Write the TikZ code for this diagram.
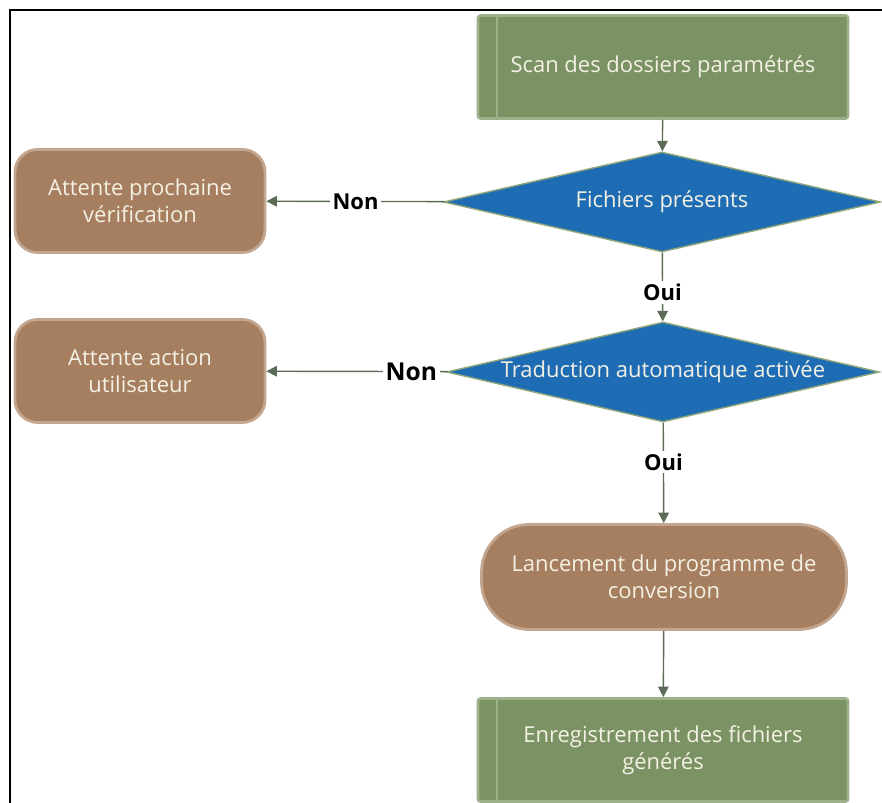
\documentclass[tikz,border=0pt]{standalone}
\usepackage{fontspec}
\setmainfont{Open Sans}
\usetikzlibrary{shapes.geometric,arrows.meta}
\definecolor{boxgreen}{HTML}{7B9364}
\definecolor{edgegreen}{HTML}{9DB08A}
\definecolor{boxbrown}{HTML}{A57F5F}
\definecolor{edgebrown}{HTML}{C2A690}
\definecolor{boxblue}{HTML}{1E6CB4}
\definecolor{edgeblue}{HTML}{8FA67A}
\definecolor{linecol}{HTML}{5B6B55}
\definecolor{boxtext}{HTML}{F4F1E4}
\begin{document}
\begin{tikzpicture}[x=0.02cm, y=-0.02cm,
    every node/.style={font=\fontsize{12.5}{15.3}\selectfont},
    procbox/.style={draw=edgegreen, line width=1.6pt, fill=boxgreen, text=boxtext, align=center,
        minimum width=7.4cm, minimum height=2.06cm, rounded corners=1.5pt,
        path picture={\draw[edgegreen, line width=1.6pt]
            ([xshift=0.38cm]path picture bounding box.north west) -- ([xshift=0.38cm]path picture bounding box.south west);}},
    waitbox/.style={draw=edgebrown, line width=1.6pt, fill=boxbrown, text=boxtext, align=center,
        minimum height=2.06cm, rounded corners=0.45cm},
    decision/.style={diamond, aspect=4.35, draw=edgeblue, line width=0.8pt, fill=boxblue, text=boxtext,
        inner sep=0pt, minimum height=2cm},
    flow/.style={draw=linecol, line width=0.8pt, -{Triangle[width=6pt,length=6pt]}},
    answer/.style={font=\bfseries\fontsize{12.5}{14}\selectfont, fill=white, inner sep=1.5pt}]
    \useasboundingbox (0,0) rectangle (882,803);
    \draw[line width=1.2pt] (10,803) -- (10,10) -- (882,10);

    \node[procbox] (scan) at (663,67) {Scan des dossiers paramétrés};
    \node[decision, minimum width=8.74cm] (files) at (662,202) {Fichiers présents};
    \node[waitbox, minimum width=5cm] (next) at (140,201) {Attente prochaine\\vérification};
    \node[decision, minimum width=8.66cm] (auto) at (663,372) {Traduction automatique activée};
    \node[waitbox, minimum width=5cm] (user) at (140,371) {Attente action\\utilisateur};
    \node[waitbox, minimum width=7.3cm, minimum height=2.1cm, rounded corners=0.95cm] (conv) at (664,577) {Lancement du programme de\\conversion};
    \node[procbox] (save) at (663,750) {Enregistrement des fichiers\\générés};

    \draw[flow] (scan) -- (files);
    \draw[flow] (files) -- node[answer] {Non} (next);
    \draw[flow] (files) -- node[answer, pos=0.58] {Oui} (auto);
    \draw[flow] (auto) -- node[answer, pos=0.2, font=\bfseries\fontsize{14}{16}\selectfont] {Non} (user);
    \draw[flow] (auto) -- node[answer, pos=0.39] {Oui} (conv);
    \draw[flow] (conv) -- (save);
\end{tikzpicture}
\end{document}
